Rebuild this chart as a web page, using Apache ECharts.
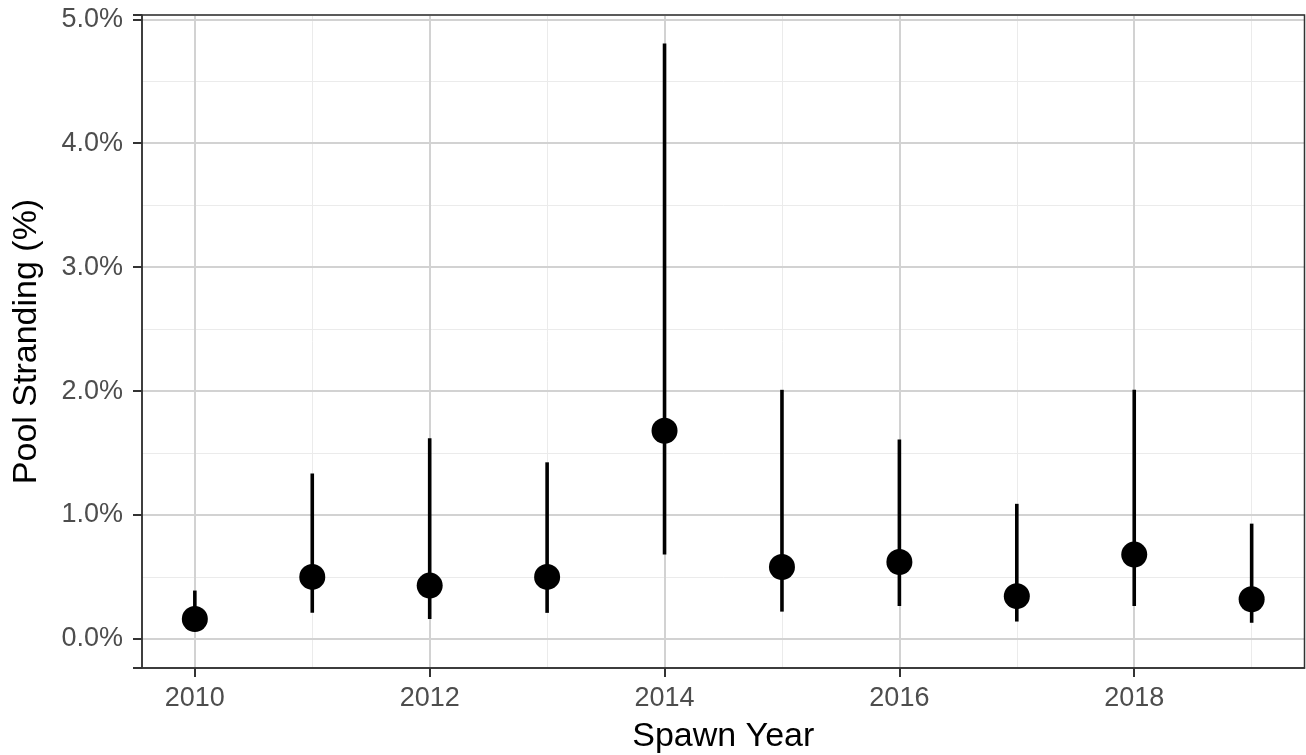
<!DOCTYPE html>
<html>
<head>
<meta charset="utf-8">
<script src="https://cdn.jsdelivr.net/npm/echarts@6/dist/echarts.min.js"></script>
<style>
html,body{margin:0;padding:0;background:#fff;}
#chart{width:1306px;height:755px;}
</style>
</head>
<body>
<div id="chart"></div>
<script>
const years = [2010, 2011, 2012, 2013, 2014, 2015, 2016, 2017, 2018, 2019];
const estimate = [0.16, 0.50, 0.43, 0.50, 1.68, 0.58, 0.62, 0.345, 0.68, 0.32];
const lower = [0.08, 0.21, 0.16, 0.21, 0.68, 0.22, 0.265, 0.14, 0.265, 0.13];
const upper = [0.39, 1.335, 1.62, 1.425, 4.805, 2.01, 1.61, 1.09, 2.01, 0.93];
const xMajorTicks = [2010, 2012, 2014, 2016, 2018];
const xMinorTicks = [2011, 2013, 2015, 2017, 2019];
const yMajorTicks = [0, 1, 2, 3, 4, 5];
const yMinorTicks = [0.5, 1.5, 2.5, 3.5, 4.5];

const font = '"Liberation Sans", Arial, sans-serif';
const xMin = 2009.55, xMax = 2019.45, yMin = -0.235, yMax = 5.035;

const chart = echarts.init(document.getElementById('chart'));
chart.setOption({
  animation: false,
  backgroundColor: '#ffffff',
  grid: {
    left: 142, right: 1.5, top: 15, bottom: 87,
    outerBoundsMode: 'none', containLabel: false,
    show: true, borderColor: '#333333', borderWidth: 1.5, backgroundColor: 'transparent',
    z: 10
  },
  xAxis: [
    {
      type: 'value', min: xMin, max: xMax, position: 'bottom',
      name: 'Spawn Year', nameLocation: 'middle', nameGap: 52,
      nameTextStyle: { fontFamily: font, fontSize: 34, color: '#000' },
      axisLine: { show: true, onZero: false, lineStyle: { color: '#333', width: 1.5 } },
      axisTick: { show: true, inside: false, length: 9, customValues: xMajorTicks, lineStyle: { color: '#333', width: 2 } },
      axisLabel: { show: true, customValues: xMajorTicks, margin: 17, fontFamily: font, fontSize: 27, color: '#4d4d4d', formatter: v => String(v) },
      splitLine: { show: true, lineStyle: { color: '#d2d2d2', width: 2 } },
      z: 2
    },
    {
      type: 'value', min: xMin, max: xMax, position: 'bottom',
      axisLine: { show: false, onZero: false },
      axisTick: { show: false, customValues: xMinorTicks },
      axisLabel: { show: false, customValues: xMinorTicks },
      splitLine: { show: true, lineStyle: { color: '#ebebeb', width: 1 } },
      z: 1
    }
  ],
  yAxis: [
    {
      type: 'value', min: yMin, max: yMax, position: 'left',
      name: 'Pool Stranding (%)', nameLocation: 'middle', nameGap: 98, nameRotate: 90,
      nameTextStyle: { fontFamily: font, fontSize: 34, color: '#000' },
      axisLine: { show: true, onZero: false, lineStyle: { color: '#333', width: 1.5 } },
      axisTick: { show: true, inside: false, length: 9, lineStyle: { color: '#333', width: 2 } },
      axisLabel: { show: true, customValues: yMajorTicks, margin: 19, fontFamily: font, fontSize: 27, color: '#4d4d4d', formatter: v => v.toFixed(1) + '%' },
      splitLine: { show: true, lineStyle: { color: '#d2d2d2', width: 2 } },
      z: 2
    },
    {
      type: 'value', min: yMin, max: yMax, position: 'left',
      axisLine: { show: false, onZero: false },
      axisTick: { show: false, customValues: yMinorTicks },
      axisLabel: { show: false, customValues: yMinorTicks },
      splitLine: { show: true, lineStyle: { color: '#ebebeb', width: 1 } },
      z: 1
    }
  ],
  series: [
    {
      type: 'custom',
      xAxisIndex: 0, yAxisIndex: 0,
      data: years.map((y, i) => [y, lower[i], upper[i]]),
      renderItem: function (params, api) {
        const p1 = api.coord([api.value(0), api.value(1)]);
        const p2 = api.coord([api.value(0), api.value(2)]);
        return {
          type: 'line',
          shape: { x1: p1[0], y1: p1[1], x2: p2[0], y2: p2[1] },
          style: { stroke: '#000', lineWidth: 3.6 }
        };
      },
      z: 5
    },
    {
      type: 'scatter',
      xAxisIndex: 0, yAxisIndex: 0,
      data: years.map((y, i) => [y, estimate[i]]),
      symbol: 'circle', symbolSize: 26,
      itemStyle: { color: '#000', opacity: 1 },
      z: 6
    }
  ]
});
</script>
</body>
</html>
